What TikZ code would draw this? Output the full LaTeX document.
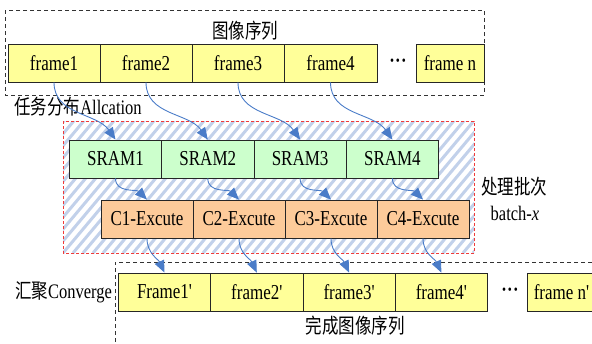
\documentclass[tikz,border=0pt]{standalone}
\usepackage{fontspec}
\setmainfont{Liberation Serif}
\newfontfamily\cjk{Noto Sans CJK SC}
\usetikzlibrary{arrows.meta}
\definecolor{fy}{HTML}{FFFF99}
\definecolor{fg}{HTML}{CCFFCC}
\definecolor{fo}{HTML}{FDCB9A}
\definecolor{ablue}{HTML}{4A7CC8}
\definecolor{hatch}{HTML}{C2D1EA}
\definecolor{rdash}{HTML}{F03A3A}
\newcommand{\tx}[1]{\scalebox{1}[1.25]{#1}}
\newcommand{\pr}{\textquotesingle}
\newcommand{\dotsrow}{\textbf{\textperiodcentered\kern0.5pt\textperiodcentered\kern0.5pt\textperiodcentered}}
\begin{document}
\begin{tikzpicture}[x=1pt,y=1pt,
  box/.style={draw=black!85, line width=0.8pt, inner sep=0pt, minimum height=38pt,
              font=\fontsize{17}{20}\selectfont},
  fr/.style={box, fill=fy, minimum width=92pt},
  sr/.style={box, fill=fg, minimum width=92.3pt},
  ce/.style={box, fill=fo, minimum width=92pt},
  lbl/.style={inner sep=0pt, font=\fontsize{16.5}{20}\selectfont},
  flow/.style={draw=ablue, line width=0.9pt, -{Triangle[length=12pt,width=10pt]}},
  grp/.style={draw=black!80, line width=0.7pt, dash pattern=on 4pt off 3pt},
]
\useasboundingbox (0,0) rectangle (592,-343);
\clip (0,0) rectangle (592,-343);

% top group
\draw[grp] (5,-10) rectangle (484,-95);
\node[lbl] (t1) at (245,-31) {\tx{\cjk 图像序列}};

% red hatched batch box
\begin{scope}
  \clip (63,-121) rectangle (474,-253);
  \foreach \i in {-140,-130,...,480}
    \draw[hatch, line width=3pt] (63+\i,-253) -- ++(120,143);
\end{scope}
\draw[rdash, line width=0.8pt, dash pattern=on 3pt off 2pt] (63,-121) rectangle (474,-253);

% bottom group
\draw[grp] (592,-262) -- (115,-262) -- (115,-343);

% frames
\node[fr] (f1) at (54,-63) {\tx{frame1}};
\node[fr] (f2) at (146,-63) {\tx{frame2}};
\node[fr] (f3) at (238,-63) {\tx{frame3}};
\node[fr, minimum width=93pt] (f4) at (330.5,-63) {\tx{frame4}};
\node[lbl] (d1) at (398,-63) {\tx{\dotsrow}};
\node[fr, minimum width=68pt] (fn) at (450,-63) {\tx{frame n}};

\node[lbl] (t2) at (78,-107) {\tx{{\cjk 任务分布}Allcation}};

% SRAM
\node[sr] (s1) at (115.5,-159) {\tx{SRAM1}};
\node[sr] (s2) at (207.8,-159) {\tx{SRAM2}};
\node[sr] (s3) at (300.1,-159) {\tx{SRAM3}};
\node[sr] (s4) at (392.4,-159) {\tx{SRAM4}};

% Execute
\node[ce] (c1) at (147,-219) {\tx{C1-Excute}};
\node[ce] (c2) at (239,-219) {\tx{C2-Excute}};
\node[ce] (c3) at (331,-219) {\tx{C3-Excute}};
\node[ce] (c4) at (423,-219) {\tx{C4-Excute}};

\node[lbl] (t3) at (514,-187) {\tx{\cjk 处理批次}};
\node[lbl] (t4) at (515,-213) {\tx{batch-\textit{x}}};

% output frames
\node[fr, minimum width=92.3pt] (g1) at (164.5,-292) {\tx{Frame1\pr}};
\node[fr, minimum width=92.3pt] (g2) at (256.8,-292) {\tx{frame2\pr}};
\node[fr, minimum width=92.3pt] (g3) at (349.1,-292) {\tx{frame3\pr}};
\node[fr, minimum width=92.3pt] (g4) at (441.4,-292) {\tx{frame4\pr}};
\node[lbl] (d2) at (510,-292) {\tx{\dotsrow}};
\node[fr, minimum width=69pt] (gn) at (561.5,-292) {\tx{frame n\pr}};

\node[lbl] (t5) at (63.5,-292) {\tx{{\cjk 汇聚}Converge}};
\node[lbl] (t6) at (355,-326) {\tx{\cjk 完成图像序列}};

% arrows
\foreach \a/\b in {f1/s1,f2/s2,f3/s3,f4/s4}
  \draw[flow] (\a.south) to[out=-90,in=125] (\b.north);
\foreach \a/\b in {s1/c1,s2/c2,s3/c3,s4/c4}
  \draw[flow] (\a.south) to[out=-90,in=135] (\b.north);
\foreach \a/\b in {c1/g1,c2/g2,c3/g3,c4/g4}
  \draw[flow] (\a.south) to[out=-90,in=115] (\b.north);
\end{tikzpicture}
\end{document}
